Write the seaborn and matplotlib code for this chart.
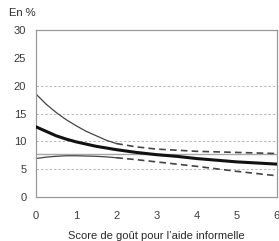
import numpy as np
import pandas as pd
import matplotlib
matplotlib.use("Agg")
import matplotlib.pyplot as plt
import seaborn as sns

# Data
x_solid = [0, 0.25, 0.5, 0.75, 1.0, 1.25, 1.5, 1.75, 2.0]
upper_solid = [18.5, 16.7, 15.2, 13.9, 12.8, 11.8, 11.0, 10.2, 9.6]
lower_solid = [6.9, 7.15, 7.3, 7.4, 7.4, 7.35, 7.3, 7.2, 7.05]

x_dash = [2.0, 2.5, 3.0, 3.5, 4.0, 4.5, 5.0, 5.5, 6.0]
upper_dash = [9.6, 9.0, 8.6, 8.4, 8.2, 8.1, 8.0, 7.9, 7.8]
lower_dash = [7.05, 6.7, 6.3, 5.9, 5.5, 5.05, 4.6, 4.2, 3.8]

x_mean = [0, 0.25, 0.5, 0.75, 1.0, 1.5, 2.0, 2.5, 3.0, 3.5, 4.0, 4.5, 5.0, 5.5, 6.0]
mean_vals = [12.6, 11.8, 11.0, 10.4, 9.9, 9.1, 8.5, 8.0, 7.6, 7.3, 6.9, 6.6, 6.3, 6.1, 5.9]

x_ref = [0, 6]
ref_vals = [7.75, 7.75]

x_ticks = [0, 1, 2, 3, 4, 5, 6]
y_ticks = [0, 5, 10, 15, 20, 25, 30]
grid_levels = [5, 10, 15, 20]

sns.set_theme(style="white")
plt.rcParams['font.family'] = ['Liberation Sans', 'DejaVu Sans']

fig = plt.figure(figsize=(2.79, 2.41), dpi=100)
ax = fig.add_axes([0.129, 0.183, 0.863, 0.692])

for g in grid_levels:
    ax.axhline(g, color="#b8b8b8", lw=0.7, ls=(0, (2.5, 2)), zorder=0)

sns.lineplot(x=x_ref, y=ref_vals, ax=ax, color="#a8a8a8", lw=1.0, zorder=1)
sns.lineplot(x=x_solid, y=upper_solid, ax=ax, color="#444444", lw=0.9, zorder=2)
sns.lineplot(x=x_dash, y=upper_dash, ax=ax, color="#444444", lw=1.2, ls=(0, (4, 2.5)), zorder=2)
sns.lineplot(x=x_solid, y=lower_solid, ax=ax, color="#444444", lw=0.9, zorder=2)
sns.lineplot(x=x_dash, y=lower_dash, ax=ax, color="#444444", lw=1.2, ls=(0, (4, 2.5)), zorder=2)
sns.lineplot(x=x_mean, y=mean_vals, ax=ax, color="#111111", lw=2.2, zorder=3)

ax.set_xlim(0, 6)
ax.set_ylim(0, 30)
ax.set_xticks(x_ticks)
ax.set_yticks(y_ticks)
ax.tick_params(axis="both", labelsize=8, colors="#3a3a3a", length=3, width=0.7)
ax.tick_params(axis="x", direction="inout", color="#999999", pad=9)
ax.tick_params(axis="y", direction="out", color="#999999", pad=4)
for s in ax.spines.values():
    s.set_visible(True)
    s.set_color("#999999")
    s.set_linewidth(0.9)

ax.set_xlabel("Score de goût pour l’aide informelle", fontsize=8, color="#2a2a2a", labelpad=7)
ax.set_ylabel("")
fig.text(0.032, 0.945, "En %", fontsize=8, color="#2a2a2a", ha="left", va="center")

fig.savefig("out.png", dpi=100)
